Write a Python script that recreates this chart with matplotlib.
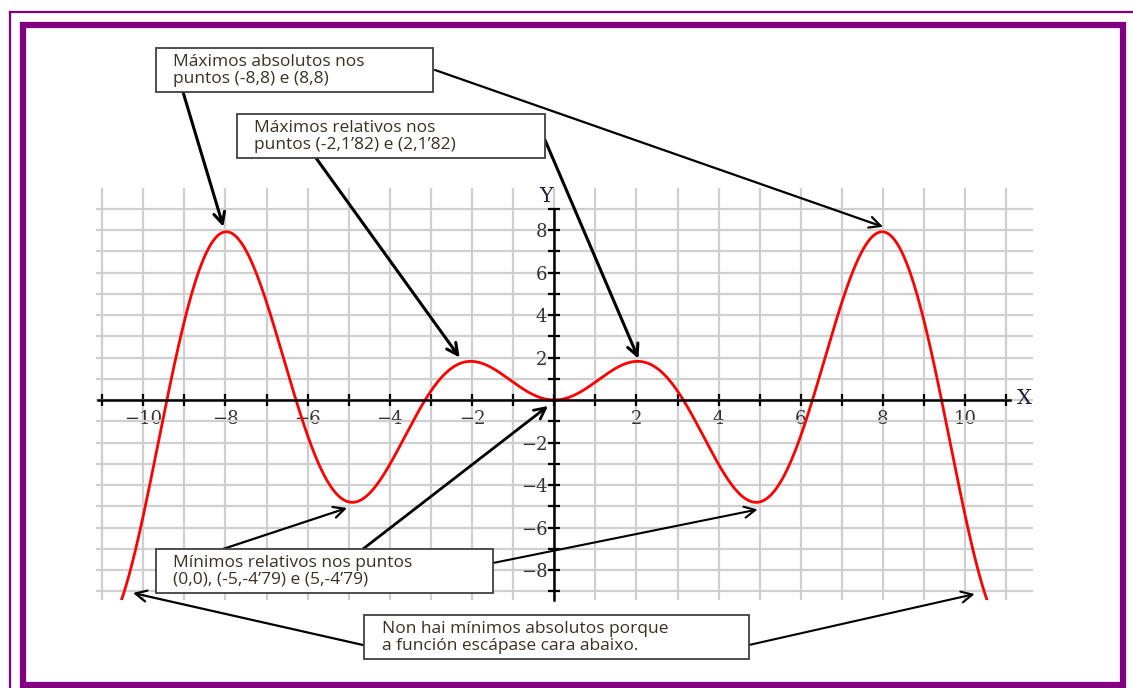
import numpy as np
import matplotlib.pyplot as plt
from matplotlib.patches import Rectangle
from matplotlib.lines import Line2D
from matplotlib.ticker import FuncFormatter

# funcion representada: f(x) = x*sen(x)
x_min, x_max = -10.6, 10.6
x_ticks = list(range(-11, 12))
y_ticks = list(range(-9, 10))

# puntos que sinalan as frechas (coordenadas da grafica)
tips_max_abs = [(-8.05, 8.15), (8.0, 8.15)]
tips_max_rel = [(-2.3, 2.0), (2.05, 1.95)]
tips_min_rel = [(-5.04, -5.08), (-0.15, -0.28), (4.95, -5.15)]
tips_escape = [(-10.25, -9.08), (10.23, -9.13)]

box_texts = [
    ["Máximos absolutos nos", "puntos (-8,8) e (8,8)"],
    ["Máximos relativos nos", "puntos (-2,1’82) e (2,1’82)"],
    ["Mínimos relativos nos puntos", "(0,0), (-5,-4’79) e (5,-4’79)"],
    ["Non hai mínimos absolutos porque", "a función escápase cara abaixo."],
]

W, H = 1133, 688
purple = '#800080'


def fp(px, py):
    # pixel da imaxe (orixe arriba esquerda) -> fraccion da figura
    return px / W, 1 - py / H


fig = plt.figure(figsize=(W / 100, H / 100), dpi=100)

# marcos morados
fig.add_artist(Line2D([10 / W, 1], [1 - 12 / H, 1 - 12 / H], color=purple, lw=1.6,
                      transform=fig.transFigure))
fig.add_artist(Line2D([10 / W, 10 / W], [0, 1 - 12 / H], color=purple, lw=1.6,
                      transform=fig.transFigure))
x0, y0 = fp(23, 685)
fig.add_artist(Rectangle((x0, y0), (1123 - 23) / W, (685 - 25) / H, fill=False,
                         ec=purple, lw=4.5, transform=fig.transFigure, zorder=3))

# eixos
ax = fig.add_axes([96 / W, 88 / H, (1033 - 96) / W, 412.5 / H])
ax.set_xlim(-11.15, 11.65)
ax.set_ylim(-9.41, 10.0)

xs = np.linspace(x_min, x_max, 1200)
ax.plot(xs, xs * np.sin(xs), color='#ff0000', lw=2.0, zorder=3)

ax.set_xticks(x_ticks)
ax.set_yticks(y_ticks)
ax.grid(True, color='#cfcfcf', lw=1.6)
ax.set_axisbelow(True)
for s in ['top', 'right']:
    ax.spines[s].set_visible(False)
ax.spines['left'].set_position(('data', 0))
ax.spines['bottom'].set_position(('data', 0))
ax.spines['left'].set_bounds(-9.41, 9)
ax.spines['bottom'].set_bounds(-11.1, 11.1)
for s in ['left', 'bottom']:
    ax.spines[s].set_linewidth(1.8)
    ax.spines[s].set_zorder(4)
ax.tick_params(direction='inout', length=8, width=1.6, color='black',
               labelsize=13, labelcolor='#333333')
ax.tick_params(axis='x', pad=3)
ax.tick_params(axis='y', pad=1)


def fmt(v, pos):
    v = int(round(v))
    if v == 0 or v % 2:
        return ''
    return str(v).replace('-', '\u2212')


ax.xaxis.set_major_formatter(FuncFormatter(fmt))
ax.yaxis.set_major_formatter(FuncFormatter(fmt))
for lab in ax.get_xticklabels() + ax.get_yticklabels():
    lab.set_family('DejaVu Serif')

ax.text(-0.2, 9.6, 'Y', family='DejaVu Serif', fontsize=15, color='#1a2233',
        ha='center', va='center')
ax.text(11.45, 0.05, 'X', family='DejaVu Serif', fontsize=15, color='#1a2233',
        ha='center', va='center')

# caixas de texto
boxes = [(156, 48, 433, 92), (237, 114, 545, 158), (156, 549, 493, 593), (364, 615, 749, 659)]
text_pos = [(173, 66, 83), (254, 132, 149), (173, 567, 584), (382, 633, 650)]
for (l, t, r, b), (tx, b1, b2), lines in zip(boxes, text_pos, box_texts):
    bx, by = fp(l, b)
    fig.add_artist(Rectangle((bx, by), (r - l) / W, (b - t) / H, fc='white', ec='#404040',
                             lw=1.3, transform=fig.transFigure, zorder=2))
    for ly, line in zip((b1, b2), lines):
        fx, fy = fp(tx, ly)
        fig.text(fx, fy, line, family='Open Sans', fontsize=12.5, color='#3a3122',
                 va='baseline', ha='left', zorder=5)

# frechas
starts = [(183, 92), (435, 70), (316, 158), (545, 140),
          (223, 549), (363, 549), (493, 563), (363, 645), (749, 645)]
tips = tips_max_abs + tips_max_rel + tips_min_rel + tips_escape
widths = [2.2, 1.6, 2.2, 2.2, 1.6, 2.0, 1.5, 1.6, 1.5]
for (sx, sy), tip, w in zip(starts, tips, widths):
    ax.annotate('', xy=tip, xycoords='data', xytext=fp(sx, sy), textcoords='figure fraction',
                arrowprops=dict(arrowstyle='->', lw=w, color='black', mutation_scale=20,
                                shrinkA=0, shrinkB=0),
                annotation_clip=False, zorder=6)

fig.savefig('out.png', dpi=100)
